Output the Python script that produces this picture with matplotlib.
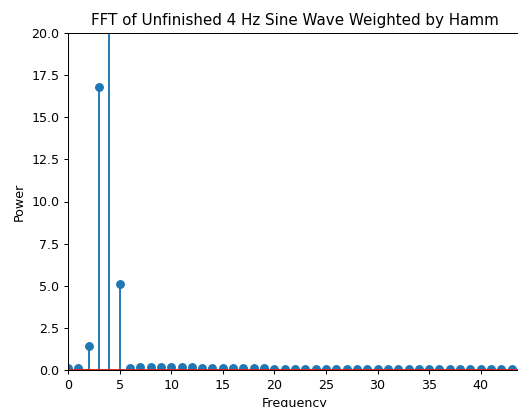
import numpy as np
import matplotlib

matplotlib.use("Agg")
import matplotlib.pyplot as plt

# FFT bin frequencies (Hz) and power
freqs = list(range(45))
power = [
    0.12, 0.10, 1.45, 16.8, 26.0, 5.1, 0.12, 0.20, 0.20, 0.20,
    0.20, 0.20, 0.15, 0.12, 0.12, 0.12, 0.12, 0.12, 0.13, 0.10,
    0.08, 0.08, 0.08, 0.08, 0.08, 0.08, 0.08, 0.08, 0.08, 0.08,
    0.08, 0.08, 0.08, 0.08, 0.08, 0.08, 0.08, 0.08, 0.08, 0.08,
    0.08, 0.08, 0.08, 0.08, 0.08,
]
title = "FFT of Unfinished 4 Hz Sine Wave Weighted by Hamm"

# reference looks like a default figure rendered at a lower dpi
W, H = 518, 407
DPI = 91
fig = plt.figure(figsize=(W / DPI, H / DPI), dpi=DPI)
# axes runs slightly past the right edge of the image, as in the reference
ax = fig.add_axes([68 / W, (H - 370) / H, (521 - 68) / W, (370 - 33) / H])

ax.stem(freqs, power)
ax.set_xlim(0, 43.9)
ax.set_ylim(0, 20)
ax.set_yticks(np.arange(0, 20.1, 2.5))
ax.set_xlabel("Frequency")
ax.set_ylabel("Power")
ax.set_title(title)

fig.savefig("out.png", dpi=DPI)
